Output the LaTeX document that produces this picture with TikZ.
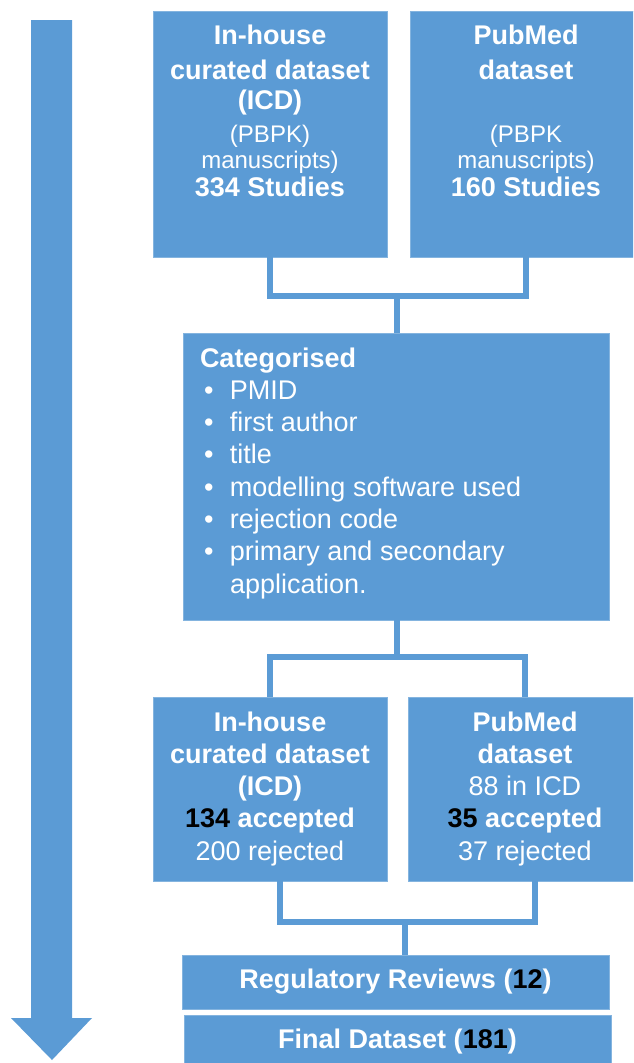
\documentclass[tikz,border=0pt]{standalone}
\usepackage{fontspec}
\setmainfont{Liberation Sans}
\usetikzlibrary{positioning}
\definecolor{boxblue}{HTML}{5B9BD5}
\newcommand{\blk}[1]{\textcolor{black}{#1}}
\newcommand{\smalltxt}{\fontsize{24}{26}\selectfont}

\begin{document}
\begin{tikzpicture}[x=1pt,y=-1pt,
  box/.style={fill=boxblue,draw=boxblue!75!white,line width=0.8pt,inner sep=0pt,
              text=white,font=\fontsize{27}{32.3}\selectfont},
  conn/.style={draw=boxblue,line width=6pt}]
\clip (0,0) rectangle (633,1063);
%The big arrow on the left shows the direction of the screening,
% the boxes on the right are the steps, from the two sources
% at the top down to the final dataset at the bottom.
\fill[boxblue] (31,20) -- (72,20) -- (72,1018) -- (92,1018) -- (52,1060)
   -- (11,1018) -- (31,1018) -- cycle;
%first row: the two sources
\node[box](ich) at (270,134){\parbox[c][246pt][t]{234pt}{\centering
  \fontsize{27}{26}\selectfont\vspace*{14pt}\strut\textbf{In-house}\\[7pt]
  \textbf{curated dataset}\\[4pt] \textbf{(ICD)}\\[7pt] {\smalltxt (PBPK)}\\
  {\smalltxt manuscripts)}\\[2pt] \textbf{334 Studies}}};
\node[box](pub) at (526,134){\parbox[c][246pt][t]{232pt}{\centering
  \fontsize{27}{26}\selectfont\vspace*{14pt}\strut\textbf{PubMed}\\[7pt]
  \textbf{dataset}\\[4pt] \mbox{}\\[7pt] {\smalltxt (PBPK}\\
  {\smalltxt manuscripts)}\\[2pt] \textbf{160 Studies}}};
%second row: what was recorded
\node[box](cat) at (396,476.5){\parbox[c][287pt][t]{426pt}{\raggedright
  \leftskip=17pt\vspace*{11.4pt}\strut\textbf{Categorised}\\
  \makebox[30pt][l]{\hspace{4pt}\textbullet}PMID\\
  \makebox[30pt][l]{\hspace{4pt}\textbullet}first author\\
  \makebox[30pt][l]{\hspace{4pt}\textbullet}title\\
  \makebox[30pt][l]{\hspace{4pt}\textbullet}modelling software used\\
  \makebox[30pt][l]{\hspace{4pt}\textbullet}rejection code\\
  \makebox[30pt][l]{\hspace{4pt}\textbullet}primary and secondary\\
  \hspace*{30pt}application.}};
%third row: accepted and rejected
\node[box](ichacc) at (270,789){\parbox[c][184pt][t]{234pt}{\centering
  \vspace*{11.4pt}\strut\textbf{In-house}\\ \textbf{curated dataset}\\
  \textbf{(ICD)}\\ \textbf{\blk{134} accepted}\\ 200 rejected}};
\node[box](pubacc) at (525,789){\parbox[c][184pt][t]{234pt}{\centering
  \vspace*{11.4pt}\strut\textbf{PubMed}\\ \textbf{dataset}\\
  88 in ICD\\ \textbf{\blk{35} accepted}\\ 37 rejected}};
%last rows
\node[box,minimum width=427pt,minimum height=54pt](reg) at (395.5,982)
  {\textbf{Regulatory Reviews (\blk{12})}};
\node[box,minimum width=427pt,minimum height=54pt](fin) at (397.5,1042)
  {\textbf{Final Dataset (\blk{181})}};
%connectors
\coordinate (j1) at (397,296);
\coordinate (j2) at (397,657);
\coordinate (j3) at (405,922);
\draw[conn] (ich.south) |- (j1) -| (pub.south);
\draw[conn] (j1) -- (j1 |- cat.north);
\draw[conn] (cat.south -| j2) -- (j2);
\draw[conn] (ichacc.north) |- (j2) -| (pubacc.north);
\draw[conn] ([xshift=10pt]ichacc.south) |- (j3) -| ([xshift=10pt]pubacc.south);
\draw[conn] (j3) -- (j3 |- reg.north);
\end{tikzpicture}
\end{document}
